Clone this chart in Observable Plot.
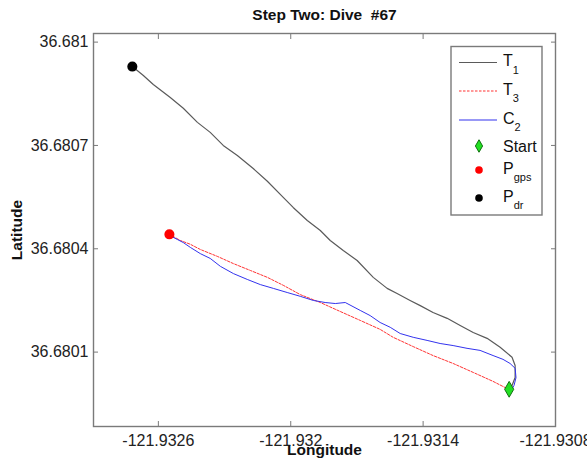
<!DOCTYPE html>
<html><head><meta charset="utf-8">
<script src="https://cdn.jsdelivr.net/npm/d3@7"></script>
<script src="https://cdn.jsdelivr.net/npm/@observablehq/plot@0.6"></script>
<style>
body{margin:0;background:#fff;}
</style></head><body><div id="wrap"></div>
<script>
const title = "Step Two: Dive  #67";
const xLabel = "Longitude";
const yLabel = "Latitude";
const xDomain = [-121.932894, -121.9308];
const yDomain = [36.679884, 36.681025];
const xTicks = [-121.9326, -121.932, -121.9314, -121.9308];
const xTickLabels = ["-121.9326", "-121.932", "-121.9314", "-121.9308"];
const yTicks = [36.6801, 36.6804, 36.6807, 36.681];
const yTickLabels = ["36.6801", "36.6804", "36.6807", "36.681"];

// T1 (dead reckoning track)
const t1Lon = [-121.932718, -121.932668, -121.932623, -121.932546, -121.932487, -121.932423, -121.932365, -121.932306, -121.932242, -121.932170, -121.932106, -121.932034, -121.931989, -121.931925, -121.931866, -121.931821, -121.931762, -121.931699, -121.931626, -121.931563, -121.931518, -121.931459, -121.931413, -121.931355, -121.931291, -121.931232, -121.931173, -121.931110, -121.931051, -121.930997, -121.930983, -121.930983, -121.930997, -121.931010];
const t1Lat = [36.680929, 36.680903, 36.680877, 36.680839, 36.680808, 36.680767, 36.680738, 36.680700, 36.680671, 36.680633, 36.680596, 36.680549, 36.680520, 36.680482, 36.680453, 36.680424, 36.680395, 36.680366, 36.680317, 36.680285, 36.680270, 36.680250, 36.680235, 36.680215, 36.680198, 36.680177, 36.680157, 36.680140, 36.680114, 36.680085, 36.680061, 36.680026, 36.680003, 36.679992];

// T3
const t3Lon = [-121.932550, -121.932500, -121.932455, -121.932410, -121.932333, -121.932260, -121.932183, -121.932106, -121.932034, -121.931957, -121.931866, -121.931776, -121.931685, -121.931595, -121.931536, -121.931445, -121.931355, -121.931264, -121.931173, -121.931083, -121.931019, -121.931010];
const t3Lat = [36.680442, 36.680424, 36.680413, 36.680398, 36.680378, 36.680357, 36.680337, 36.680317, 36.680294, 36.680267, 36.680244, 36.680218, 36.680192, 36.680166, 36.680143, 36.680116, 36.680090, 36.680067, 36.680041, 36.680015, 36.679994, 36.679992];

// C2
const c2Lon = [-121.932541, -121.932514, -121.932487, -121.932455, -121.932410, -121.932365, -121.932319, -121.932260, -121.932197, -121.932138, -121.932079, -121.932016, -121.931957, -121.931898, -121.931844, -121.931798, -121.931753, -121.931685, -121.931640, -121.931595, -121.931549, -121.931504, -121.931445, -121.931382, -121.931323, -121.931264, -121.931201, -121.931142, -121.931083, -121.931038, -121.931006, -121.930983, -121.930979, -121.930988, -121.931001];
const c2Lat = [36.680436, 36.680427, 36.680418, 36.680404, 36.680386, 36.680372, 36.680349, 36.680328, 36.680311, 36.680296, 36.680285, 36.680273, 36.680262, 36.680250, 36.680244, 36.680241, 36.680244, 36.680221, 36.680206, 36.680186, 36.680172, 36.680154, 36.680143, 36.680134, 36.680125, 36.680119, 36.680111, 36.680105, 36.680090, 36.680079, 36.680067, 36.680053, 36.680026, 36.680003, 36.679989];

const startPt = {lon: -121.931010, lat: 36.679992};
const gpsPt = {lon: -121.932550, lat: 36.680442};
const drPt = {lon: -121.932718, lat: 36.680929};

const zip = (a, b) => a.map((v, i) => ({lon: v, lat: b[i]}));
const T1 = zip(t1Lon, t1Lat), T3 = zip(t3Lon, t3Lat), C2 = zip(c2Lon, c2Lat);

const axisColor = "#7a7a7a";
const font = "'Liberation Sans', Arial, sans-serif";

const plot = Plot.plot({
  width: 587, height: 473,
  marginLeft: 93, marginRight: 32, marginTop: 33, marginBottom: 47,
  style: {fontFamily: font, fontSize: "16px", color: "#222", background: "#fff", overflow: "visible"},
  x: {domain: xDomain},
  y: {domain: yDomain},
  marks: [
    Plot.frame({stroke: axisColor, strokeWidth: 1.4}),
    Plot.axisX(xTicks, {anchor: "bottom", tickSize: -5, tickPadding: 13, stroke: axisColor, fill: "#222",
      tickFormat: d => xTickLabels[xTicks.indexOf(d)], label: null, fontSize: 16}),
    Plot.axisX(xTicks, {anchor: "top", tickSize: -5, tickFormat: () => "", stroke: axisColor, label: null}),
    Plot.axisY(yTicks, {anchor: "left", tickSize: -5, tickPadding: 10, stroke: axisColor, fill: "#222",
      tickFormat: d => yTickLabels[yTicks.indexOf(d)], label: null, fontSize: 16}),
    Plot.axisY(yTicks, {anchor: "right", tickSize: -5, tickFormat: () => "", stroke: axisColor, label: null}),
    Plot.line(T1, {x: "lon", y: "lat", stroke: "#5a5a5a", strokeWidth: 1.2}),
    Plot.line(T3, {x: "lon", y: "lat", stroke: "#ff3333", strokeWidth: 1, strokeDasharray: "2.5,1.5"}),
    Plot.line(C2, {x: "lon", y: "lat", stroke: "#3333ee", strokeWidth: 1}),
    Plot.dot([startPt], {x: "lon", y: "lat", symbol: "diamond", r: 4.8, fill: "#22e022", stroke: "#107010", strokeWidth: 1}),
    Plot.dot([gpsPt], {x: "lon", y: "lat", r: 4.3, fill: "#ff0000", stroke: "#ff0000"}),
    Plot.dot([drPt], {x: "lon", y: "lat", r: 4.3, fill: "#000", stroke: "#000"}),
    Plot.text([title], {frameAnchor: "top", dy: -18, lineAnchor: "middle", textAnchor: "middle", fontWeight: "bold", fontSize: 15.5, fill: "#111"}),
    Plot.text([xLabel], {frameAnchor: "bottom", dy: 24, lineAnchor: "middle", textAnchor: "middle", fontWeight: "bold", fontSize: 15.5, fill: "#111"}),
    Plot.text([yLabel], {frameAnchor: "left", dx: -76, rotate: -90, lineAnchor: "middle", textAnchor: "middle", fontWeight: "bold", fontSize: 15.5, fill: "#111"})
  ]
});
document.getElementById("wrap").appendChild(plot);

// Legend box inside the axes (top-right)
const legendItems = [
  {main: "T", sub: "1", kind: "line", stroke: "#5a5a5a", dash: null},
  {main: "T", sub: "3", kind: "line", stroke: "#ff3333", dash: "2.5,1.5"},
  {main: "C", sub: "2", kind: "line", stroke: "#3333ee", dash: null},
  {main: "Start", sub: "", kind: "diamond", fill: "#22e022", stroke: "#107010"},
  {main: "P", sub: "gps", kind: "dot", fill: "#ff0000"},
  {main: "P", sub: "dr", kind: "dot", fill: "#000"}
];
const legendY = [62.5, 91, 120, 146, 170, 198];
const svg = d3.select(plot);
const g = svg.append("g").attr("font-family", font).attr("text-anchor", "start");
g.append("rect").attr("x", 451).attr("y", 46.5).attr("width", 91).attr("height", 168.5)
  .attr("fill", "#fff").attr("stroke", axisColor).attr("stroke-width", 1.4);
legendItems.forEach((it, i) => {
  const y = legendY[i];
  if (it.kind === "line") {
    g.append("line").attr("x1", 459).attr("x2", 497).attr("y1", y).attr("y2", y)
      .attr("stroke", it.stroke).attr("stroke-width", 1.1).attr("stroke-dasharray", it.dash);
  } else if (it.kind === "diamond") {
    g.append("path").attr("transform", `translate(479,${y})`)
      .attr("d", d3.symbol(d3.symbolDiamond, 45)()).attr("fill", it.fill).attr("stroke", it.stroke);
  } else {
    g.append("circle").attr("cx", 479).attr("cy", y).attr("r", 3.8).attr("fill", it.fill);
  }
  const t = g.append("text").attr("x", 503).attr("font-size", 16).attr("fill", "#111").attr("text-anchor", "start");
  if (it.sub) {
    t.attr("y", y + 3.5);
    t.append("tspan").text(it.main);
    t.append("tspan").attr("font-size", 11).attr("dy", 7.5).text(it.sub);
  } else {
    t.attr("y", y + 6).text(it.main);
  }
});
</script></body></html>
